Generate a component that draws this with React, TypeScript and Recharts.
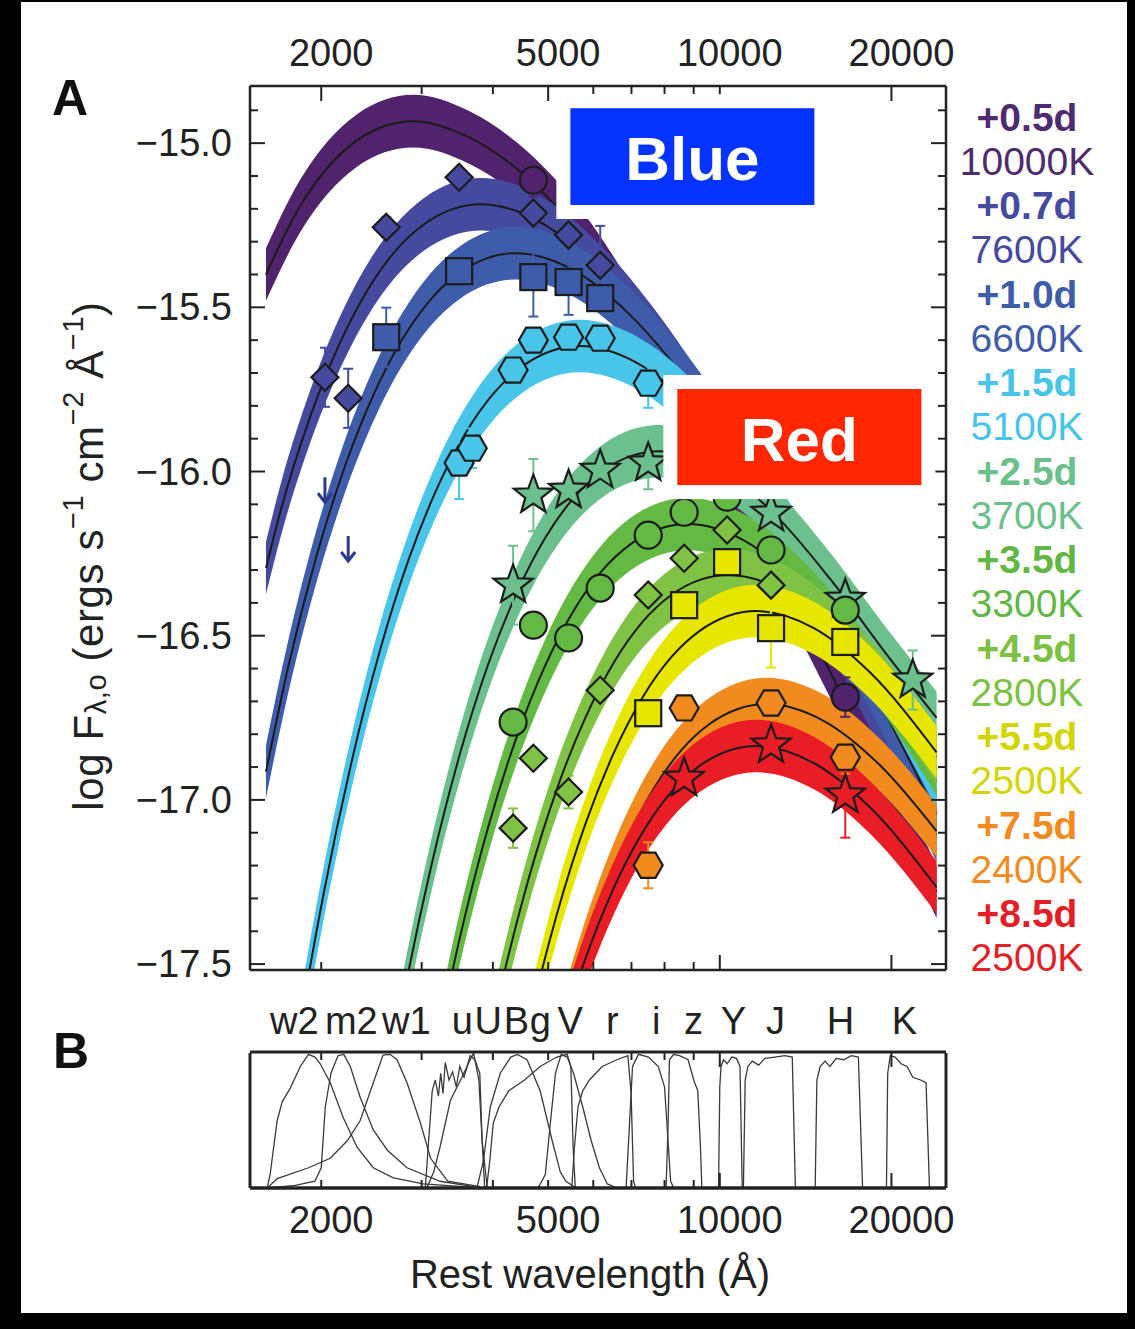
import React from "react";
import {
  ComposedChart,
  Area,
  Line,
  Scatter,
  XAxis,
  YAxis,
  ErrorBar,
  ReferenceArea,
} from "recharts";

const FONT = '"Liberation Sans", Arial, Helvetica, sans-serif';
const INK = "#222";

const EPOCHS = ["+0.5d", "+0.7d", "+1.0d", "+1.5d", "+2.5d", "+3.5d", "+4.5d", "+5.5d", "+7.5d", "+8.5d"];
const TEMPS = ["10000K", "7600K", "6600K", "5100K", "3700K", "3300K", "2800K", "2500K", "2400K", "2500K"];

// blackbody fits: [rest wavelength (Å), log F]
const sed05 = [[1600, -15.4], [1829, -15.197], [2051, -15.075], [2302, -14.994], [2583, -14.948], [2898, -14.933], [3648, -14.984], [4593, -15.105], [5782, -15.295], [7280, -15.56], [9164, -15.85], [11537, -16.165], [14524, -16.5], [18285, -16.85], [24000, -17.28]];
const sed07 = [[1600, -16.294], [1703, -16.11], [1911, -15.835], [2144, -15.618], [2406, -15.45], [2699, -15.328], [3029, -15.247], [3399, -15.201], [3813, -15.186], [4800, -15.237], [6043, -15.374], [7608, -15.576], [9578, -15.827], [12058, -16.113], [15180, -16.427], [19110, -16.762], [24000, -17.107]];
const sed10 = [[1600, -16.914], [1748, -16.599], [1961, -16.259], [2201, -15.984], [2469, -15.767], [2771, -15.599], [3108, -15.477], [3488, -15.396], [3914, -15.35], [4391, -15.335], [5528, -15.386], [6959, -15.523], [8761, -15.725], [11030, -15.976], [13886, -16.262], [17481, -16.576], [24000, -17.043]];
const sed15 = [[1601, -18.367], [1797, -17.784], [2016, -17.292], [2262, -16.882], [2538, -16.542], [2848, -16.267], [3195, -16.05], [3585, -15.882], [4022, -15.76], [4513, -15.679], [5064, -15.633], [5682, -15.618], [7153, -15.669], [9005, -15.806], [11337, -16.008], [14273, -16.259], [17968, -16.545], [24000, -16.945]];
const sed25 = [[2477, -18.104], [2779, -17.612], [3118, -17.202], [3499, -16.862], [3925, -16.587], [4404, -16.37], [4942, -16.202], [5544, -16.08], [6221, -15.999], [6981, -15.953], [7832, -15.938], [9860, -15.989], [12413, -16.126], [15627, -16.328], [19673, -16.56], [24000, -16.75]];
const sed35 = [[3116, -17.834], [3496, -17.424], [3923, -17.084], [4402, -16.809], [4938, -16.592], [5541, -16.424], [6217, -16.302], [6976, -16.221], [7827, -16.175], [8782, -16.16], [11056, -16.211], [13919, -16.348], [17523, -16.55], [24000, -16.906]];
const sed45 = [[3672, -17.989], [4120, -17.579], [4623, -17.239], [5187, -16.964], [5820, -16.747], [6531, -16.579], [7327, -16.457], [8221, -16.376], [9225, -16.33], [10350, -16.315], [13030, -16.366], [16404, -16.503], [20651, -16.705], [24000, -16.869]];
const sed55 = [[4113, -18.099], [4615, -17.689], [5178, -17.349], [5810, -17.074], [6518, -16.857], [7315, -16.689], [8206, -16.567], [9208, -16.486], [10332, -16.44], [11592, -16.425], [14593, -16.476], [18372, -16.613], [24000, -16.855]];
const sed75 = [[4807, -17.972], [5394, -17.632], [6052, -17.357], [6790, -17.14], [7619, -16.972], [8548, -16.85], [9591, -16.769], [10762, -16.723], [12075, -16.708], [15201, -16.759], [19138, -16.896], [24000, -17.095]];
const sed85 = [[4615, -18.1], [5178, -17.76], [5810, -17.485], [6518, -17.268], [7315, -17.1], [8206, -16.978], [9208, -16.897], [10332, -16.851], [11592, -16.836], [14593, -16.887], [18372, -17.024], [24000, -17.266]];

// half width of the shaded fit band, dex
const BAND = 0.08;

// photometry: [rest wavelength (Å), log F, error]
const phot05 = [[4710, -15.113, 0.05], [16600, -16.687, 0.06]];
const phot07 = [[2030, -15.713, 0.09], [2230, -15.777, 0.09], [2600, -15.256, 0.03], [3490, -15.104, 0], [4710, -15.213, 0], [5430, -15.28, 0], [6170, -15.372, 0.12]];
const phot10 = [[2600, -15.591, 0.09], [3490, -15.39, 0], [4710, -15.408, 0.12], [5430, -15.423, 0.1], [6170, -15.472, 0]];
const phot15 = [[3490, -15.974, 0.11], [3680, -15.929, 0.06], [4340, -15.691, 0], [4710, -15.6, 0], [5430, -15.591, 0], [6170, -15.594, 0], [7490, -15.731, 0.075]];
const phot25 = [[4340, -16.346, 0.12], [4710, -16.072, 0.11], [5430, -16.057, 0], [6170, -15.996, 0], [7490, -15.974, 0.08], [12300, -16.127, 0], [16600, -16.389, 0.06], [21800, -16.635, 0.09]];
const phot35 = [[4340, -16.763, 0], [4710, -16.468, 0], [5430, -16.507, 0], [6170, -16.355, 0], [7490, -16.194, 0], [8660, -16.124, 0], [10300, -16.078, 0], [12300, -16.239, 0], [16600, -16.422, 0]];
const phot45 = [[4340, -17.086, 0.06], [4710, -16.873, 0], [5430, -16.976, 0.05], [6170, -16.666, 0.03], [7490, -16.376, 0], [8660, -16.264, 0], [10300, -16.178, 0], [12300, -16.346, 0]];
const phot55 = [[7490, -16.736, 0], [8660, -16.407, 0], [10300, -16.276, 0], [12300, -16.477, 0.12], [16600, -16.519, 0]];
const phot75 = [[7490, -17.199, 0.07], [8660, -16.72, 0], [12300, -16.705, 0], [16600, -16.87, 0.05]];
const phot85 = [[8660, -16.934, 0], [12300, -16.833, 0], [16600, -16.985, 0.13]];
// UV upper limits
const limits10 = [[2030, -16.057], [2230, -16.236]];

// filter transmission curves (panel B): [wavelength (Å), relative throughput]
const fW2 = [[1608, 0], [1627, 0.1], [1674, 0.5], [1709, 0.64], [1765, 0.74], [1838, 0.9], [1900, 0.99], [1950, 0.97], [1992, 0.92], [2074, 0.78], [2186, 0.52], [2313, 0.3], [2468, 0.15], [2675, 0.075], [3020, 0.03], [3700, 0.005]];
const fM2 = [[1620, 0], [1800, 0.02], [1950, 0.05], [2000, 0.15], [2033, 0.6], [2080, 0.85], [2140, 0.98], [2190, 0.99], [2249, 0.9], [2341, 0.67], [2468, 0.43], [2612, 0.28], [2828, 0.15], [3232, 0.05], [3700, 0.01]];
const fW1 = [[1608, 0], [1674, 0.07], [1900, 0.15], [2074, 0.22], [2222, 0.35], [2341, 0.5], [2468, 0.78], [2567, 0.985], [2640, 0.99], [2716, 0.95], [2828, 0.78], [2986, 0.48], [3110, 0.22], [3333, 0.05], [3800, 0.01]];
const fu = [[3045, 0], [3080, 0.3], [3131, 0.72], [3170, 0.8], [3210, 0.68], [3240, 0.85], [3270, 0.7], [3300, 0.93], [3350, 0.8], [3400, 0.86], [3450, 0.75], [3500, 0.9], [3560, 0.82], [3650, 0.98], [3720, 0.95], [3794, 0.85], [3830, 0.35], [3910, 0]];
const fU = [[3063, 0], [3150, 0.12], [3230, 0.3], [3370, 0.65], [3530, 0.82], [3650, 0.95], [3700, 1.0], [3780, 0.8], [3830, 0.35], [3870, 0]];
const fB = [[3750, 0], [3850, 0.2], [3958, 0.6], [4121, 0.85], [4300, 0.97], [4415, 0.99], [4592, 0.95], [4841, 0.72], [5083, 0.35], [5250, 0.12], [5371, 0.05], [5600, 0]];
const fg = [[3900, 0], [3950, 0.2], [4006, 0.48], [4100, 0.6], [4265, 0.72], [4545, 0.8], [4841, 0.9], [5175, 0.97], [5400, 0.99], [5480, 0.9], [5530, 0.3], [5580, 0]];
const fV = [[4800, 0], [4943, 0.1], [5050, 0.5], [5150, 0.85], [5270, 0.99], [5400, 0.97], [5540, 0.85], [5750, 0.6], [5950, 0.35], [6150, 0.15], [6351, 0.03], [6600, 0]];
const fr = [[5500, 0], [5560, 0.3], [5640, 0.6], [5750, 0.72], [5906, 0.8], [6220, 0.9], [6600, 0.95], [6900, 0.98], [6990, 0.7], [7060, 0.05], [7120, 0]];
const fi = [[6850, 0], [6950, 0.5], [7030, 0.9], [7200, 0.99], [7500, 0.97], [7800, 0.9], [8000, 0.75], [8100, 0.4], [8200, 0.05], [8300, 0]];
const fz = [[8050, 0], [8120, 0.5], [8160, 0.95], [8300, 0.99], [8500, 0.98], [8800, 0.95], [9000, 0.8], [9150, 0.72], [9250, 0.3], [9300, 0]];
const fY = [[9950, 0], [10000, 0.75], [10050, 0.9], [10150, 0.95], [10300, 0.92], [10500, 0.97], [10700, 0.96], [10850, 0.9], [10950, 0]];
const fJ = [[11000, 0], [11080, 0.8], [11200, 0.9], [11400, 0.94], [11700, 0.91], [12000, 0.96], [12500, 0.97], [13000, 0.98], [13400, 0.97], [13570, 0]];
const fH = [[14700, 0], [14800, 0.8], [15000, 0.9], [15300, 0.94], [15600, 0.9], [16000, 0.96], [16500, 0.95], [17000, 0.98], [17500, 0.97], [17800, 0]];
const fK = [[19600, 0], [19700, 0.85], [19900, 0.98], [20300, 0.97], [20800, 0.92], [21300, 0.9], [21800, 0.82], [22500, 0.8], [23000, 0.78], [23320, 0]];

const FILTER_NAMES = ["w2", "m2", "w1", "u", "U", "B", "g", "V", "r", "i", "z", "Y", "J", "H", "K"];
const FILTER_LABEL_AT = [1794, 2258, 2819, 3535, 3927, 4397, 4845, 5468, 6480, 7740, 8989, 10564, 12518, 16281, 21083];

const X_DOMAIN = [1500, 24930];
const Y_DOMAIN = [-17.518, -14.826];
const X_TICKS = [2000, 3000, 4000, 5000, 6000, 7000, 8000, 9000, 10000, 20000];
const X_LABELS = [2000, 5000, 10000, 20000];
const Y_TICKS = [-17.5, -17.4, -17.3, -17.2, -17.1, -17.0, -16.9, -16.8, -16.7, -16.6, -16.5, -16.4, -16.3, -16.2, -16.1, -16.0, -15.9, -15.8, -15.7, -15.6, -15.5, -15.4, -15.3, -15.2, -15.1, -15.0, -14.9];
const Y_LABELS = [-17.5, -17.0, -16.5, -16.0, -15.5, -15.0];

const BAND_COLORS = ["#51236c", "#454a9f", "#3e5caa", "#49c5e9", "#6cc08d", "#64b944", "#80c243", "#e6e600", "#f28b1f", "#e91d25"];
const TEXT_COLORS = ["#4e2a6e", "#4649a0", "#3f5cab", "#48c4e8", "#6abf8b", "#62b646", "#7cc142", "#d4d400", "#f28a1e", "#e41e26"];
const MARKERS = ["circle", "diamond", "square", "hexagon", "star", "circle", "diamond", "square", "hexagon", "star"];

const SEDS = [sed05, sed07, sed10, sed15, sed25, sed35, sed45, sed55, sed75, sed85];
const PHOTS = [phot05, phot07, phot10, phot15, phot25, phot35, phot45, phot55, phot75, phot85];
const FILTERS = [fW2, fM2, fW1, fu, fU, fB, fg, fV, fr, fi, fz, fY, fJ, fH, fK];

const curveRows = (a: number[][]) => a.map(([w, f]) => ({ w, f }));
const photRows = (a: number[][]) => a.map(([w, f, e]) => ({ w, f, e: e ?? 0 }));
const near = (list: number[], v: number) => list.some((m) => Math.abs(m - v) < 1e-6);
const fmtY = (v: number) => v.toFixed(1).replace("-", "\u2212");

function YTick(props: any) {
  const { x, y, payload, side } = props;
  const major = near(Y_LABELS, payload.value);
  const dir = side === "left" ? 1 : -1;
  return (
    <g>
      <line x1={x} x2={x + dir * (major ? 15 : 8)} y1={y} y2={y} stroke={INK} strokeWidth={2} />
      {side === "left" && major && (
        <text x={x - 18} y={y} textAnchor="end" dominantBaseline="central" fontSize={38} fill={INK} fontFamily={FONT}>
          {fmtY(payload.value)}
        </text>
      )}
    </g>
  );
}

function XTick(props: any) {
  const { x, y, payload, side, labels, majors } = props;
  const v = payload.value;
  const len = near(majors, v) ? 15 : 8;
  const dir = side === "top" ? 1 : -1;
  return (
    <g>
      <line x1={x} x2={x} y1={y} y2={y + dir * len} stroke={INK} strokeWidth={2} />
      {labels && near(X_LABELS, v) && (
        <text x={x + 10} y={side === "top" ? y - 33 : y + 32} textAnchor="middle" dominantBaseline="central" fontSize={38} fill={INK} fontFamily={FONT}>
          {v}
        </text>
      )}
    </g>
  );
}

function FilterLabel(props: any) {
  const { x, y, index } = props;
  return (
    <text x={x} y={y - 32} textAnchor="middle" dominantBaseline="central" fontSize={38} fill={INK} fontFamily={FONT}>
      {FILTER_NAMES[index]}
    </text>
  );
}

function Marker(props: any) {
  const { cx, cy, kind, color } = props;
  if (cx == null || cy == null) return null;
  const st = { fill: color, stroke: "#1b1b1b", strokeWidth: 2.2 };
  if (kind === "circle") return <circle cx={cx} cy={cy} r={13.5} {...st} />;
  if (kind === "square") return <rect x={cx - 13} y={cy - 13} width={26} height={26} {...st} />;
  if (kind === "diamond") {
    const d = 13.5;
    return <polygon points={`${cx},${cy - d} ${cx + d},${cy} ${cx},${cy + d} ${cx - d},${cy}`} {...st} />;
  }
  if (kind === "hexagon") {
    const pts = [0, 60, 120, 180, 240, 300]
      .map((a) => `${cx + 14.5 * Math.cos((a * Math.PI) / 180)},${cy + 14.5 * Math.sin((a * Math.PI) / 180)}`)
      .join(" ");
    return <polygon points={pts} {...st} />;
  }
  if (kind === "star") {
    const pts = Array.from({ length: 10 }, (_, i) => {
      const r = i % 2 ? 8.5 : 20.5;
      const a = -Math.PI / 2 + (i * Math.PI) / 5;
      return `${cx + r * Math.cos(a)},${cy + r * Math.sin(a)}`;
    }).join(" ");
    return <polygon points={pts} {...st} />;
  }
  // downward arrow (upper limit)
  return (
    <g stroke={color} strokeWidth={3} fill="none">
      <line x1={cx} y1={cy - 13} x2={cx} y2={cy + 12} />
      <polyline points={`${cx - 7},${cy + 3} ${cx},${cy + 12} ${cx + 7},${cy + 3}`} />
    </g>
  );
}

function LabelBox(props: any) {
  const { x, y, width, height, color, text } = props;
  const pad = 14;
  return (
    <g>
      <rect x={x} y={y} width={width} height={height} fill="#fff" />
      <rect x={x + pad} y={y + pad} width={width - 2 * pad} height={height - 2 * pad} fill={color} />
      <text x={x + width / 2} y={y + height / 2 + 2} textAnchor="middle" dominantBaseline="central" fill="#fff" fontSize={62} fontWeight="bold" fontFamily={FONT}>
        {text}
      </text>
    </g>
  );
}

// axes are 1px thick boxes so the plot area lands on the frame of the figure
function PanelA() {
  return (
    <ComposedChart width={1135} height={1000} margin={{ top: 85, right: 188, bottom: 29, left: 249 }}>
      <XAxis xAxisId="b" dataKey="w" type="number" scale="log" domain={X_DOMAIN} allowDataOverflow orientation="bottom" height={1}
        ticks={X_TICKS} interval={0} tickSize={0} tickMargin={0} axisLine={{ stroke: INK, strokeWidth: 2.5 }}
        tick={<XTick side="bottom" labels={false} majors={[10000, 20000]} />} />
      <XAxis xAxisId="t" dataKey="w" type="number" scale="log" domain={X_DOMAIN} allowDataOverflow orientation="top" height={1}
        ticks={X_TICKS} interval={0} tickSize={0} tickMargin={0} axisLine={{ stroke: INK, strokeWidth: 2.5 }}
        tick={<XTick side="top" labels majors={X_LABELS} />} />
      <YAxis yAxisId="l" type="number" domain={Y_DOMAIN} allowDataOverflow width={1} ticks={Y_TICKS} interval={0}
        tickSize={0} tickMargin={0} axisLine={{ stroke: INK, strokeWidth: 2.5 }} tick={<YTick side="left" />} />
      <YAxis yAxisId="r" orientation="right" type="number" domain={Y_DOMAIN} allowDataOverflow width={1} ticks={Y_TICKS} interval={0}
        tickSize={0} tickMargin={0} axisLine={{ stroke: INK, strokeWidth: 2.5 }} tick={<YTick side="right" />} />

      {SEDS.map((sed, i) => {
        const rows = curveRows(sed);
        return [
          <Area key={`band${i}`} xAxisId="b" yAxisId="l" data={rows} dataKey={(d: any) => [d.f - BAND, d.f + BAND]}
            type="monotone" stroke="none" fill={BAND_COLORS[i]} fillOpacity={1} isAnimationActive={false} zIndex={100 + 2 * i} />,
          <Line key={`fit${i}`} xAxisId="b" yAxisId="l" data={rows} dataKey="f" type="monotone" stroke="#1a1a1a"
            strokeWidth={2} dot={false} activeDot={false} isAnimationActive={false} zIndex={101 + 2 * i} />,
        ];
      })}

      {PHOTS.map((p, i) => (
        <Scatter key={`pt${i}`} xAxisId="b" yAxisId="l" data={photRows(p)} dataKey="f" isAnimationActive={false}
          shape={(sp: any) => <Marker {...sp} kind={MARKERS[i]} color={BAND_COLORS[i]} />}>
          <ErrorBar dataKey="e" direction="y" width={5} stroke={BAND_COLORS[i]} strokeWidth={2} />
        </Scatter>
      ))}
      <Scatter xAxisId="b" yAxisId="l" data={curveRows(limits10)} dataKey="f" isAnimationActive={false}
        shape={(sp: any) => <Marker {...sp} kind="arrow" color="#2c3a8c" />} />

      <ReferenceArea xAxisId="b" yAxisId="l" x1={5169} x2={15504} y1={-15.231} y2={-14.851} ifOverflow="visible" zIndex={3000}
        shape={(p: any) => <LabelBox {...p} color="#0433ff" text="Blue" />} />
      <ReferenceArea xAxisId="b" yAxisId="l" x1={7962} x2={23890} y1={-16.084} y2={-15.706} ifOverflow="visible" zIndex={3000}
        shape={(p: any) => <LabelBox {...p} color="#ff2600" text="Red" />} />
    </ComposedChart>
  );
}

function PanelB() {
  return (
    <ComposedChart width={1135} height={260} margin={{ top: 61, right: 188, bottom: 61, left: 249 }}>
      <XAxis xAxisId="b" dataKey="w" type="number" scale="log" domain={X_DOMAIN} allowDataOverflow orientation="bottom" height={1}
        ticks={X_TICKS} interval={0} tickSize={0} tickMargin={0} axisLine={{ stroke: INK, strokeWidth: 3.5 }}
        tick={<XTick side="bottom" labels majors={[10000, 20000]} />} />
      <XAxis xAxisId="t" dataKey="w" type="number" scale="log" domain={X_DOMAIN} allowDataOverflow orientation="top" height={1}
        ticks={X_TICKS} interval={0} tickSize={0} tickMargin={0} axisLine={{ stroke: INK, strokeWidth: 3 }}
        tick={<XTick side="top" labels={false} majors={[10000, 20000]} />} />
      <XAxis xAxisId="n" dataKey="w" type="number" scale="log" domain={X_DOMAIN} allowDataOverflow orientation="top" height={1}
        ticks={FILTER_LABEL_AT} interval={0} tickSize={0} tickMargin={0} axisLine={false} tick={<FilterLabel />} />
      <YAxis yAxisId="l" type="number" domain={[0, 1]} allowDataOverflow width={1} tick={false} tickLine={false}
        axisLine={{ stroke: INK, strokeWidth: 3 }} />
      <YAxis yAxisId="r" orientation="right" type="number" domain={[0, 1]} allowDataOverflow width={1} tick={false} tickLine={false}
        axisLine={{ stroke: INK, strokeWidth: 3 }} />
      {FILTERS.map((f, i) => (
        <Line key={`flt${i}`} xAxisId="b" yAxisId="l" data={curveRows(f).map((r) => ({ w: r.w, t: r.f }))} dataKey="t"
          type="linear" stroke="#3a3a3a" strokeWidth={1.3} dot={false} activeDot={false} isAnimationActive={false} />
      ))}
    </ComposedChart>
  );
}

export default function App() {
  return (
    <div style={{ position: "relative", width: 1135, height: 1329, background: "#000", overflow: "hidden", fontFamily: FONT }}>
      <style>{"body{margin:0}"}</style>
      <div style={{ position: "absolute", left: 21, top: 2, width: 1106, height: 1311, background: "#fff" }} />
      <div style={{ position: "absolute", left: 0, top: 0 }}>
        <PanelA />
      </div>
      <div style={{ position: "absolute", left: 0, top: 990 }}>
        <PanelB />
      </div>
      <svg width={1135} height={1329} style={{ position: "absolute", left: 0, top: 0, pointerEvents: "none" }} fontFamily={FONT}>
        <text x={52} y={115} fontSize={50} fontWeight="bold" fill="#111">A</text>
        <text x={53} y={1068} fontSize={50} fontWeight="bold" fill="#111">B</text>
        <text x={590} y={1288} fontSize={40} textAnchor="middle" fill={INK}>Rest wavelength (Å)</text>
        <text x={88} y={556} fontSize={42} letterSpacing={0.6} textAnchor="middle" dominantBaseline="central" fill={INK} transform="rotate(-90 88 556)">
          log F<tspan dy={8} fontSize={29}>λ,o</tspan>
          <tspan dy={-8}> (ergs s</tspan>
          <tspan dy={-15} fontSize={29}>−1</tspan>
          <tspan dy={15}> cm</tspan>
          <tspan dy={-15} fontSize={29}>−2</tspan>
          <tspan dy={15}> Å</tspan>
          <tspan dy={-15} fontSize={29}>−1</tspan>
          <tspan dy={15}>)</tspan>
        </text>
        {EPOCHS.map((e, i) => (
          <g key={e + i}>
            <text x={1027} y={117 + 88.52 * i} fontSize={39} fontWeight="bold" textAnchor="middle" dominantBaseline="central" fill={TEXT_COLORS[i]}>{e}</text>
            <text x={1027} y={161.26 + 88.52 * i} fontSize={39} textAnchor="middle" dominantBaseline="central" fill={TEXT_COLORS[i]}>{TEMPS[i]}</text>
          </g>
        ))}
      </svg>
    </div>
  );
}
